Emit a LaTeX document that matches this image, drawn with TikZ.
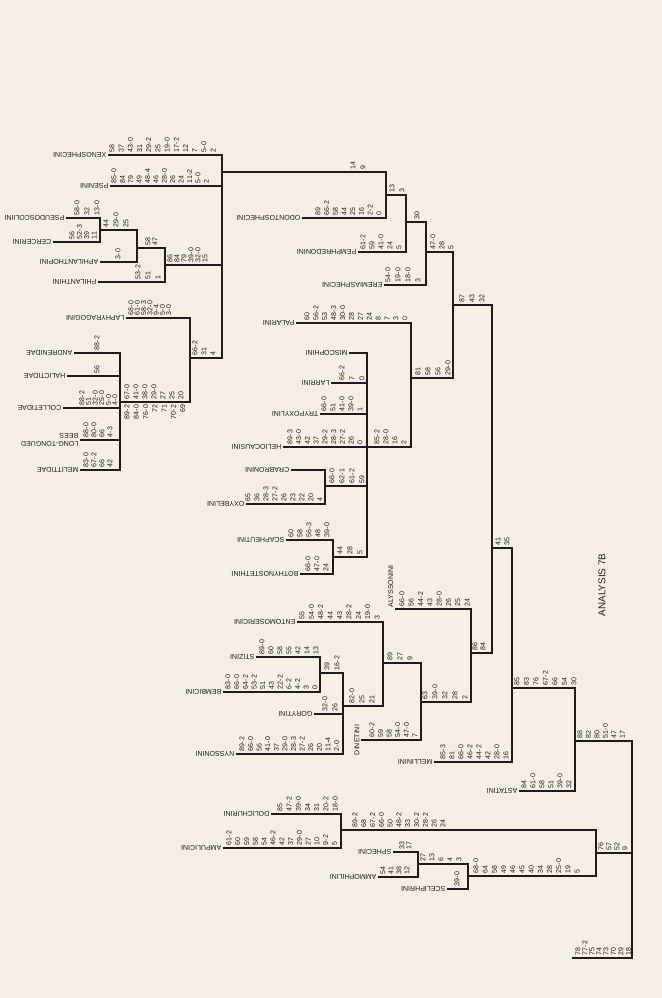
\documentclass[tikz,border=0pt]{standalone}
\usepackage{fontspec}
\setmainfont{Liberation Sans}
\definecolor{paper}{RGB}{245,238,228}
\definecolor{ink}{RGB}{28,28,28}
% character lists: name, first x, branch y, spacing, list
\newcommand{\charcol}[5]{%
  \foreach \c [count=\k from 0] in {#5}
    \node[chr] (#1-\k) at ({#2+\k*#4},{#3-2}) {\c};}
\newcommand{\charcolb}[5]{%
  \foreach \c [count=\k from 0] in {#5}
    \node[chr, anchor=east] (#1-\k) at ({#2+\k*#4},{#3+2}) {\c};}

\begin{document}
\begin{tikzpicture}[x=0.25mm, y=-0.25mm,
    every node/.style={text=ink, font=\fontsize{5}{6}\selectfont},
    taxon/.style={rotate=180, anchor=west, inner sep=1pt},
    vtaxon/.style={rotate=90, inner sep=1pt},
    chr/.style={rotate=90, anchor=west, inner sep=0.5pt},
    branch/.style={draw=ink, line width=0.9pt}]
  \fill[paper] (0,0) rectangle (662,998);
  \useasboundingbox (0,0) rectangle (662,998);

  % internal nodes of the tree
  \coordinate (ntop) at (222,172);
  \coordinate (n1) at (100,230);
  \coordinate (n2) at (137,248);
  \coordinate (n3) at (165,265);
  \coordinate (nlap) at (190,358);
  \coordinate (nbee) at (120,402);
  \coordinate (nA) at (386,195);
  \coordinate (nB) at (406,222);
  \coordinate (nC) at (426,252);
  \coordinate (nD) at (453,305);
  \coordinate (nE) at (492,548);
  \coordinate (nF) at (512,688);
  \coordinate (nG) at (575,741);
  \coordinate (nAS) at (596,853);
  \coordinate (nR) at (632,797);
  \coordinate (nroot) at (632,958);
  \coordinate (nout) at (572,958);
  \coordinate (nY) at (411,378);
  \coordinate (nX) at (367,447);
  \coordinate (nCO) at (325,486);
  \coordinate (nSB) at (333,557);
  \coordinate (nZ) at (471,653);
  \coordinate (nW) at (421,702);
  \coordinate (nV) at (383,663);
  \coordinate (nU) at (343,706);
  \coordinate (nT) at (320,673);
  \coordinate (nAmp) at (341,830);
  \coordinate (nSA) at (418,864);
  \coordinate (nSph) at (468,876);

  % Philanthinae and bees
  \node[taxon] (xeno) at (108,155) {XENOSPHECINI};
  \node[taxon] (pseni) at (110,186) {PSENINI};
  \node[taxon] (pseudo) at (66,218) {PSEUDOSCOLIINI};
  \node[taxon] (cerc) at (53,242) {CERCERINI};
  \node[taxon] (aphil) at (100,262) {APHILANTHOPINI};
  \node[taxon] (phil) at (98,282) {PHILANTHINI};
  \node[taxon] (laph) at (126,318) {LAPHYRAGOGINI};
  \node[taxon] (andr) at (74,353) {ANDRENIDAE};
  \node[taxon] (halic) at (67,376) {HALICTIDAE};
  \node[taxon] (coll) at (63,408) {COLLETIDAE};
  \node[taxon, align=left] (ltb) at (80,440) {LONG-TONGUED\\BEES};
  \node[taxon] (melit) at (80,470) {MELITTIDAE};
  \charcol{cxeno}{112}{155}{9.2}{58,37,43-0,31,29-2,25,19-0,17-2,12,7,5-0,2}
  \charcol{cpseni}{114}{186}{8.4}{85-0,84,79,49,48-4,46,28-0,26,24,11-2,5-0,2}
  \charcol{cpseudo}{77}{218}{10}{58-0,32,13-0}
  \charcol{ccerc}{72}{242}{7.4}{56,52-3,39,11}
  \charcol{cn1}{106}{230}{10}{44,29-0,25}
  \charcol{caphil}{118}{262}{10}{3-0}
  \charcol{cn2}{148}{248}{7}{58,47}
  \charcol{cphil}{138}{282}{10}{53-2,51,1}
  \charcol{cn3}{170}{265}{7}{86,84,79,39-0,32-0,15}
  \charcol{claph}{131}{318}{6.3}{68-0,61-0,58-3,32-0,9-4,5-0,3-0}
  \charcol{cnlap}{195}{358}{9}{66-2,31,4}
  \charcol{candr}{97}{353}{10}{88-2}
  \charcol{chalic}{97}{376}{10}{56}
  \charcol{ccoll}{82}{408}{6.6}{88-2,51,32-0,25-0,5-0,4-0}
  \charcol{cltb}{86}{440}{8}{88-0,80-0,66,4-3}
  \charcol{cmelit}{86}{470}{8}{83-0,67-2,66,42}
  \charcol{cnbee}{127}{402}{9}{67-0,41-0,38-0,29-0,27,25,20}
  \charcolb{cnbeeb}{127}{402}{9.3}{89-2,84-0,76-0,72,71,70-2,69}
  \foreach \t in {xeno,pseni}
    \draw[branch] (\t.west) -| (ntop);
  \draw[branch] (pseudo.west) -| (n1);
  \draw[branch] (cerc.west) -| (n1);
  \draw[branch] (n1) -| (n2);
  \draw[branch] (aphil.west) -| (n2);
  \draw[branch] (n2) -| (n3);
  \draw[branch] (phil.west) -| (n3);
  \draw[branch] (n3) -| (ntop);
  \draw[branch] (laph.west) -| (nlap);
  \foreach \t in {andr,halic,coll,ltb,melit}
    \draw[branch] (\t.west) -| (nbee);
  \draw[branch] (nbee) -| (nlap);
  \draw[branch] (nlap) -| (ntop);

  % Pemphredoninae
  \node[taxon] (odon) at (302,218) {ODONTOSPHECINI};
  \node[taxon] (pemph) at (358,252) {PEMPHREDONINI};
  \node[taxon] (erem) at (384,285) {EREMIASPHECINI};
  \charcol{cntop}{353}{172}{10}{14,9}
  \charcol{codon}{318}{218}{8.7}{89,66-2,58,44,25,16,2-2,0}
  \charcol{cnA}{392}{195}{10}{13,3}
  \charcol{cpemph}{363}{252}{9}{61-2,59,41-0,24,5}
  \charcol{cnB}{417}{222}{10}{30}
  \charcol{cerem}{388}{285}{10}{54-0,19-0,18-0,3}
  \charcol{cnC}{433}{252}{9}{47-0,28,5}
  \draw[branch] (ntop) -| (nA);
  \draw[branch] (odon.west) -| (nA);
  \draw[branch] (nA) -| (nB);
  \draw[branch] (pemph.west) -| (nB);
  \draw[branch] (nB) -| (nC);
  \draw[branch] (erem.west) -| (nC);
  \draw[branch] (nC) -| (nD);

  % Crabroninae
  \node[taxon] (palar) at (296,323) {PALARINI};
  \node[taxon] (misco) at (349,353) {MISCOPHINI};
  \node[taxon] (larr) at (331,383) {LARRINI};
  \node[taxon] (tryp) at (320,414) {TRYPOXYLINI};
  \node[taxon] (helio) at (283,447) {HELIOCAUSINI};
  \node[taxon] (crab) at (291,470) {CRABRONINI};
  \node[taxon] (oxyb) at (246,504) {OXYBELINI};
  \node[taxon] (scaph) at (286,540) {SCAPHEUTINI};
  \node[taxon] (both) at (300,574) {BOTHYNOSTETHINI};
  \charcol{cpalar}{307}{323}{8.9}{60,56-2,53,48-3,30-0,28,27,24,8,7,3,0}
  \charcol{clarr}{342}{383}{10}{66-2,7,0}
  \charcol{ctryp}{324}{414}{9}{66-0,51,41-0,39-0,1}
  \charcol{chelio}{290}{447}{8.75}{89-3,43-0,42,37,29-2,28-3,27-2,26,0}
  \charcol{coxyb}{248}{504}{9}{65,36,28-3,27-2,26,23,22,20,4}
  \charcol{cnCO}{332}{486}{10}{66-0,62-1,61-2,59}
  \charcol{cscaph}{291}{540}{9}{60,58,56-3,48,39-0}
  \charcol{cboth}{308}{574}{9}{66-0,47-0,24}
  \charcol{cnSB}{340}{557}{10}{44,28,5}
  \charcol{cnX}{377}{447}{9}{85-2,28-0,16,2}
  \charcol{cnY}{418}{378}{10}{81,58,56,29-0}
  \charcol{cnD}{462}{305}{10}{87,43,32}
  \draw[branch] (crab.west) -| (nCO);
  \draw[branch] (oxyb.west) -| (nCO);
  \draw[branch] (scaph.west) -| (nSB);
  \draw[branch] (both.west) -| (nSB);
  \foreach \t in {misco,larr,tryp,helio}
    \draw[branch] (\t.west) -| (nX);
  \draw[branch] (nCO) -| (nX);
  \draw[branch] (nSB) -| (nX);
  \draw[branch] (palar.west) -| (nY);
  \draw[branch] (nX) -| (nY);
  \draw[branch] (nY) -| (nD);
  \draw[branch] (nD) -| (nE);

  % Bembicinae
  \node[vtaxon, anchor=south west] (alys) at (395,609) {ALYSSONINI};
  \node[taxon] (entom) at (297,622) {ENTOMOSERICINI};
  \node[taxon] (stiz) at (256,657) {STIZINI};
  \node[taxon] (bemb) at (223,692) {BEMBICINI};
  \node[taxon] (gory) at (314,714) {GORYTINI};
  \node[vtaxon, anchor=south] (dinet) at (361,740) {DINETINI};
  \node[taxon] (nyss) at (236,754) {NYSSONINI};
  \charcol{calys}{402}{609}{9.3}{66-0,56,44-2,43,28-0,26,25,24}
  \charcol{centom}{302}{622}{9.4}{55,54-0,48-2,44,43,28-2,24,19-0,3}
  \charcol{cstiz}{262}{657}{9}{89-0,60,58,55,42,14,13}
  \charcol{cbemb}{228}{692}{8.7}{83-0,66-0,64-2,53-2,51,43,22-2,6-2,4-2,3,0}
  \charcol{cnT}{327}{673}{10}{39,16-2}
  \charcol{cgory}{325}{714}{10}{32-0,26}
  \charcol{cnyss}{242}{754}{8.6}{89-2,66-0,56,41-0,37,29-0,28-3,27-2,26,20,11-4,2-0}
  \charcol{cnU}{352}{706}{10}{82-0,25,21}
  \charcol{cnV}{390}{663}{10}{89,27,9}
  \charcol{cdinet}{372}{740}{8.6}{60-2,59,58,54-0,47-0,7}
  \charcol{cnW}{425}{702}{10}{63,39-0,32,28,2}
  \charcol{cnZ}{475}{653}{8}{86,84}
  \charcol{cnE}{498}{548}{9}{41,35}
  \draw[branch] (stiz.west) -| (nT);
  \draw[branch] (bemb.west) -| (nT);
  \draw[branch] (nT) -| (nU);
  \draw[branch] (gory.west) -| (nU);
  \draw[branch] (nyss.west) -| (nU);
  \draw[branch] (entom.west) -| (nV);
  \draw[branch] (nU) -| (nV);
  \draw[branch] (nV) -| (nW);
  \draw[branch] (dinet.south) -| (nW);
  \draw[branch] (alys.south west) -| (nZ);
  \draw[branch] (nW) -| (nZ);
  \draw[branch] (nZ) -| (nE);
  \draw[branch] (nE) -| (nF);

  % Mellinini, Astatinae
  \node[taxon] (mell) at (434,762) {MELLININI};
  \node[taxon] (astat) at (519,791) {ASTATINI};
  \charcol{cmell}{443}{762}{9}{85-3,81,66-0,46-2,44-2,42,28-0,16}
  \charcol{castat}{524}{791}{9}{84,61-0,58,51,39-0,32}
  \charcol{cnF}{517}{688}{9.5}{85,83,76,67-2,66,54,30}
  \draw[branch] (mell.west) -| (nF);
  \draw[branch] (nF) -| (nG);
  \draw[branch] (astat.west) -| (nG);

  % Ampulicidae and Sphecinae
  \node[taxon] (doli) at (271,814) {DOLICHURINI};
  \node[taxon] (ampu) at (223,848) {AMPULICINI};
  \node[taxon] (sphe) at (393,852) {SPHECINI};
  \node[taxon] (ammo) at (378,877) {AMMOPHILINI};
  \node[taxon] (scel) at (447,889) {SCELIPHRINI};
  \charcol{cdoli}{280}{814}{9.2}{85,47-2,39-0,34,31,20-2,18-0}
  \charcol{campu}{229}{848}{8.8}{61-2,60,59,58,54,46-2,42,37,29-0,27,10,9-2,5}
  \charcol{cnAmp}{355}{830}{8.8}{89-2,68,67-2,66-0,50,48-2,33,30-2,28-2,26,24}
  \charcol{csphe}{402}{852}{7}{33,17}
  \charcol{cammo}{383}{877}{8}{54,41,38,12}
  \charcol{cnSA}{423}{864}{9}{27,13,6,4,3}
  \charcol{cscel}{457}{889}{10}{39-0}
  \charcol{cnSph}{476}{876}{9.2}{68-0,64,58,49,46,45,40,34,28,25-0,19,5}
  \charcol{cnG}{580}{741}{8.5}{88,82,80,51-0,47,17}
  \charcol{cnAS}{601}{853}{8}{76,57,52,9}
  \charcol{cnout}{578}{958}{7}{78,77-2,75,74}
  \charcol{cnroot}{606}{958}{7.5}{73,70,29,18}
  \draw[branch] (doli.west) -| (nAmp);
  \draw[branch] (ampu.west) -| (nAmp);
  \draw[branch] (sphe.west) -| (nSA);
  \draw[branch] (ammo.west) -| (nSA);
  \draw[branch] (nSA) -| (nSph);
  \draw[branch] (scel.west) -| (nSph);
  \draw[branch] (nAmp) -| (nAS);
  \draw[branch] (nSph) -| (nAS);
  \draw[branch] (nG) -| (nR);
  \draw[branch] (nAS) -| (nR);
  \draw[branch] (nout) -- (nroot) -- (nR);

  \node[rotate=90, font=\fontsize{7}{8}\selectfont] (title) at (602,585) {ANALYSIS 7B};
\end{tikzpicture}
\end{document}
